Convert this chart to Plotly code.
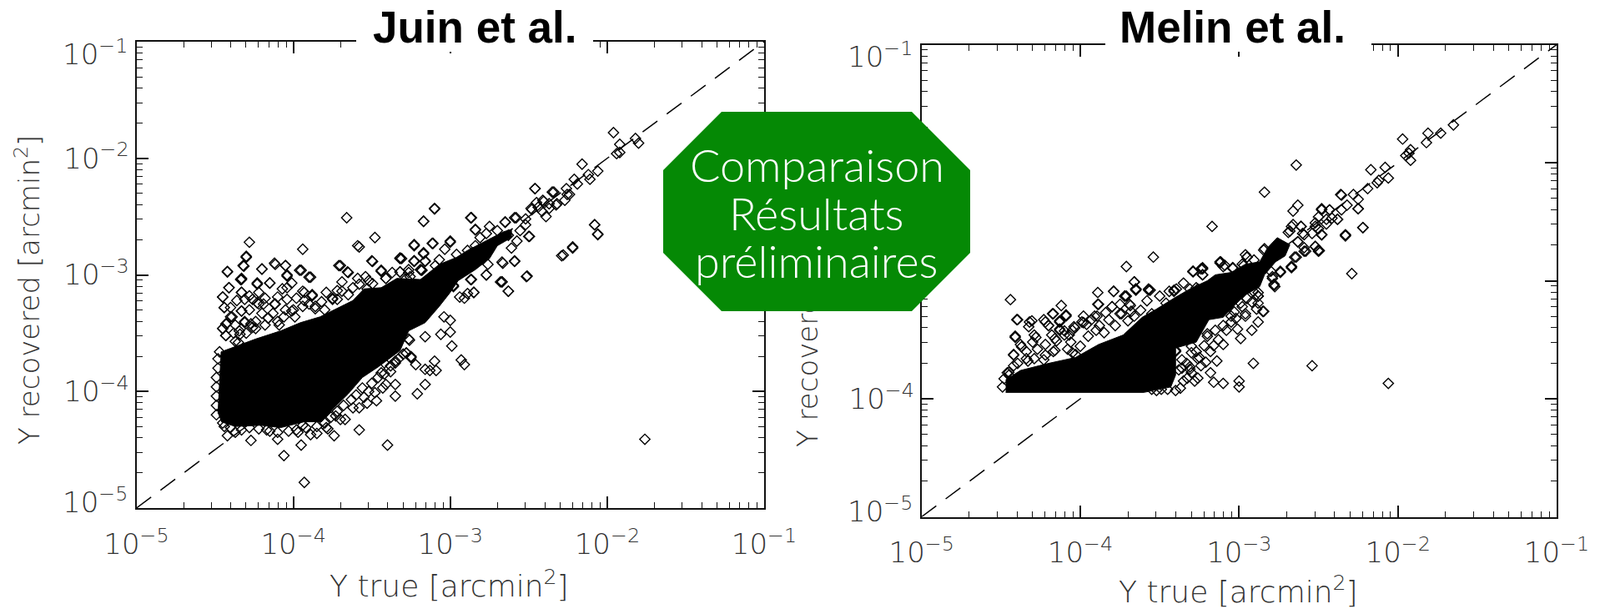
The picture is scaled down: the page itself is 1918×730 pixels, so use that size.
import numpy as np
import plotly.graph_objects as go

# All values are log10(Y). Individual diamonds are read where they can be
# told apart; the saturated black core cannot be resolved into points, so its outline is traced.
juin_lx = [-1.96,-1.92,-1.82,-1.80,-1.94,-1.92,-2.16,-2.06,-2.12,-2.11,-2.21,-2.19,-2.26,-2.24,-2.46,-2.34,-2.41,-2.37,-2.32,-2.44,-2.48,-2.52,-2.08,-2.06,-2.22,-2.28,-2.50,-2.59,-2.65,-2.87,-2.84,-3.10,-3.17,-3.66,-3.48,-3.59,-3.23,-3.11,-3.00,-3.17,-3.31,-3.23,-3.16,-3.50,-3.94,-4.28,-4.30,-4.32,-4.42,-4.33,-4.20,-4.12,-4.05,-3.95,-3.89,-4.04,-3.70,-3.65,-3.44,-3.18,-2.67,-2.59,-2.77,-2.51,-2.67,-2.87,
 -4.41,-4.33,-4.45,-4.23,-4.15,-4.33,-4.04,-3.94,-3.88,-3.75,-3.69,-4.23,-4.31,-4.44,-4.33,-4.39,-4.31,-4.43,-4.45,-4.43,-4.34,-4.37,-4.26,-4.16,-4.12,-4.06,-4.00,-3.86,-4.09,-4.24,-4.19,-3.93,-3.59,-3.53,-3.41,-3.36,-3.61,-3.28,-2.67,-2.63,-2.85,-2.91,-2.98,-3.00,-3.00,-2.99,-3.04,-3.06,-3.16,-3.26,-3.25,-3.22,-3.28,-2.93,-2.91,-3.10,-3.16,-3.13,-3.09,-3.16,-3.21,-3.35,-3.35,-3.41,-3.38,-3.35,-3.47,-3.53,-3.58,-3.67,-3.73,-3.58,-3.74,-3.79,-3.85,-3.89,-3.95,-3.97,-3.94,-3.40,-4.06,-3.93,-4.10,-4.27,-4.37,-4.42,-4.44,-4.17,-1.76,-3.48,-3.44,
 -4.42,-4.315,-4.30,-4.336,-4.20,-4.115,-4.05,-3.96,-3.90,-4.04,-4.23,-4.15,-4.41,-4.33,-4.45,-4.22,-4.26,-4.07,-4.01,-3.93,-3.88,-4.04,-4.115,-4.22,-4.44,-4.33,-4.40,-4.31,-4.425,-4.45,-4.345,-4.43,-4.35,-4.16,-4.24,-4.01,-3.94,-3.86,-3.79,-3.75,-3.71,-3.655,-3.69,-3.62,-3.72,-3.495,-3.44,-3.32,-3.23,-3.265,-3.32,-3.19,-3.58,-3.54,-3.495,-3.41,-3.265,-3.25,-3.28,-3.35,-3.42,
 -2.46,-2.35,-2.255,-2.325,-2.27,-2.39,-2.415,-2.485,-2.45,-2.405,-2.37,-2.495,-2.52,-2.58,-2.65,-2.555,-2.575,-2.61,-2.63,-2.70,-2.75,-2.77,-2.84,-2.81,-2.865,-2.84,-2.89,-2.665,-2.59,-2.515,-2.68,-2.63,-2.77,-2.76,-2.865,-2.85,-2.89,-2.94,-2.98,-3.00,-3.115,-3.23,-3.17,-3.10,-3.32,-3.23,-3.17,-3.16,-3.185,-3.32,-3.265,-3.256,-3.095,-3.035,-3.07,-2.96,-2.08,-2.06,-2.22,-2.29,
 -4.45,-4.40,-4.33,-4.28,-4.22,-4.15,-4.10,-4.03,-3.98,-3.92,-3.85,-3.80,-3.76,-3.72,-3.68,-3.63,-3.60,-3.56,-3.52,-3.50,-3.46,-3.42,-3.38,-3.33,-3.30,-3.43,-3.55,-3.62,-3.70,-3.78,-4.48,-4.48,-4.49,-4.49,-4.49,-4.49,-4.49,-4.47,
 -4.38,-4.30,-4.27,-4.20,-4.13,-4.18,-4.10,-4.05,-3.99,-3.90,-3.82,-3.80,-3.72,-3.65,-3.58,-3.52,-3.37,-4.40,-4.36,-4.28,-4.18,-4.10,-3.98,-4.37,-4.28]
juin_ly = [-1.78,-1.88,-1.83,-1.87,-1.96,-1.95,-2.05,-2.11,-2.14,-2.18,-2.18,-2.22,-2.26,-2.31,-2.26,-2.29,-2.36,-2.39,-2.39,-2.42,-2.44,-2.52,-2.57,-2.65,-2.76,-2.83,-2.67,-2.51,-2.55,-2.51,-2.61,-2.43,-2.54,-2.51,-2.68,-2.75,-2.74,-2.73,-2.71,-2.81,-2.86,-2.88,-2.88,-2.88,-2.78,-2.72,-2.84,-2.92,-2.97,-3.04,-2.95,-2.90,-2.92,-2.96,-3.02,-3.00,-2.92,-2.98,-2.96,-2.96,-2.89,-2.88,-3.00,-3.01,-3.06,-3.04,
 -3.11,-3.15,-3.19,-3.07,-3.07,-3.03,-3.11,-3.14,-3.18,-3.20,-3.14,-3.24,-3.21,-3.28,-3.31,-3.36,-3.40,-3.42,-3.46,-3.52,-3.51,-3.57,-3.45,-3.37,-3.25,-3.36,-3.30,-3.27,-3.43,-3.40,-3.25,-3.22,-3.03,-3.12,-3.03,-3.18,-3.31,-3.03,-3.06,-3.14,-3.15,-3.20,-3.09,-3.39,-3.49,-3.61,-3.36,-3.51,-3.53,-3.56,-3.70,-3.77,-3.67,-3.73,-3.77,-3.74,-3.81,-3.82,-3.82,-3.94,-4.02,-3.94,-4.04,-3.94,-3.83,-3.74,-4.08,-4.10,-4.14,-4.24,-4.21,-4.33,-4.38,-4.31,-4.36,-4.37,-4.46,-4.35,-4.29,-4.46,-4.55,-4.78,-4.41,-4.42,-4.35,-4.38,-4.30,-4.33,-4.41,-4.01,-3.84,
 -2.975,-2.925,-2.85,-3.04,-2.95,-2.91,-2.92,-2.96,-3.02,-3.01,-3.08,-3.07,-3.11,-3.15,-3.19,-3.15,-3.21,-3.12,-3.07,-3.15,-3.17,-3.21,-3.25,-3.25,-3.28,-3.31,-3.36,-3.41,-3.42,-3.46,-3.48,-3.52,-3.58,-3.37,-3.46,-3.31,-3.27,-3.29,-3.15,-3.21,-2.92,-2.975,-3.06,-3.11,-3.135,-2.885,-2.97,-2.855,-2.88,-2.98,-2.975,-2.955,-2.76,-3.015,-3.075,-3.03,-3.55,-3.71,-3.67,-3.755,-3.755,
 -2.26,-2.29,-2.31,-2.40,-2.36,-2.50,-2.455,-2.43,-2.38,-2.37,-2.43,-2.67,-2.57,-2.51,-2.545,-2.62,-2.71,-2.77,-2.66,-2.62,-2.585,-2.645,-2.615,-2.68,-2.51,-2.75,-2.79,-2.90,-2.885,-3.015,-3.06,-3.14,-3.00,-2.91,-3.04,-3.15,-3.16,-3.19,-3.10,-2.72,-2.73,-2.75,-2.54,-2.435,-2.86,-2.885,-2.82,-2.885,-2.96,-2.975,-2.955,-3.015,-2.92,-2.78,-2.87,-2.825,-2.57,-2.655,-2.77,-2.836,
 -4.27,-4.31,-4.33,-4.31,-4.32,-4.34,-4.35,-4.34,-4.33,-4.31,-4.30,-4.27,-4.22,-4.17,-4.12,-4.07,-4.03,-3.97,-4.00,-3.93,-3.88,-3.85,-3.78,-3.72,-3.68,-3.97,-4.05,-4.14,-4.24,-4.32,-3.72,-3.80,-3.88,-3.96,-4.04,-4.12,-4.20,-3.66,
 -3.50,-3.50,-3.42,-3.33,-3.33,-3.43,-3.40,-3.30,-3.36,-3.25,-3.23,-3.30,-3.21,-3.17,-3.08,-3.05,-2.98,-3.28,-3.22,-3.18,-3.20,-3.19,-3.20,-3.43,-3.30]
juin_core_lx = [-4.48,-4.47,-4.46,-4.40,-4.24,-4.08,-3.955,-3.83,-3.725,-3.62,-3.55,-3.44,-3.34,-3.19,-3.07,-2.96,-2.89,-2.77,-2.66,-2.61,-2.61,-2.70,-2.75,-2.84,-2.95,-3.00,-3.07,-3.16,-3.265,-3.32,-3.46,-3.56,-3.65,-3.74,-3.82,-3.93,-4.08,-4.21,-4.37,-4.46]
juin_core_ly = [-4.19,-3.90,-3.66,-3.63,-3.55,-3.48,-3.41,-3.36,-3.29,-3.22,-3.12,-3.11,-3.03,-3.04,-2.91,-2.85,-2.79,-2.705,-2.63,-2.61,-2.68,-2.75,-2.86,-2.955,-3.05,-3.15,-3.27,-3.41,-3.48,-3.65,-3.79,-3.88,-4.02,-4.14,-4.26,-4.26,-4.31,-4.29,-4.30,-4.26]

melin_lx = [-1.65,-1.73,-1.81,-1.82,-1.97,-1.92,-1.93,-1.92,-1.95,-2.08,-2.17,-2.06,-2.12,-2.13,-2.19,-2.25,-2.36,-2.25,-2.32,-2.22,-2.33,-2.29,-2.64,-2.84,-2.63,-2.66,-3.17,-3.54,-3.71,-2.48,-2.43,-2.45,-2.38,-2.52,-2.61,-2.67,-2.48,-2.50,-2.69,-2.60,-2.52,-2.50,-2.59,-2.63,-2.84,-2.67,-2.65,-2.74,-2.78,-2.79,-2.95,-3.12,-3.29,-3.23,-3.23,-3.66,-3.65,-3.79,-3.72,-3.57,-3.41,-3.27,-2.88,-2.91,-3.10,-3.04,-2.98,
 -4.44,-4.12,-4.40,-4.32,-4.22,-4.20,-4.17,-4.09,-4.13,-3.89,-3.79,-3.66,-3.65,-3.72,-3.69,-3.57,-3.80,-3.89,-3.91,-3.74,-3.99,-4.04,-4.13,-4.07,-4.05,-4.16,-4.41,-4.28,-4.37,-4.42,-4.34,-4.46,-4.22,-4.16,-3.41,-3.29,-3.24,-3.12,-2.96,-3.04,-2.67,-2.78,-2.50,-2.85,-2.88,-2.92,-2.99,-3.10,-3.01,-3.05,-2.96,-3.14,-2.91,-2.54,-2.06,-3.00,-3.00,-3.10,-3.16,-3.18,-3.21,-3.26,-3.28,-3.31,-3.36,-3.37,-3.49,-3.55,-3.30,-3.40,-3.20,-2.48,
 -3.71,-3.685,-3.65,-3.56,-3.50,-3.395,-3.46,-3.31,-3.26,-3.885,-3.80,-3.75,-3.62,-3.66,-3.895,-3.84,-3.93,-3.88,-3.82,-3.96,-4.035,-4.10,-4.13,-4.09,-4.13,-4.175,-4.23,-4.20,-4.305,-4.395,-4.325,-4.29,-4.41,-4.377,-4.34,-4.42,-4.29,-4.23,-4.22,-4.15,-4.10,-4.06,-4.03,-4.00,-4.395,-4.45,-3.98,-3.78,-3.55,-3.51,-3.40,-3.36,-3.38,-3.30,-3.25,-3.20,-3.31,-3.26,-3.326,
 -2.845,-2.95,-3.116,-3.23,-3.29,-3.23,-3.09,-3.04,-2.97,-2.906,-2.67,-2.74,-2.775,-2.79,-2.80,-2.52,-2.495,-2.58,-2.63,-2.59,-2.64,-2.68,-2.61,-2.66,-2.59,-2.54,-2.48,-2.52,-2.50,-2.48,-2.43,-2.415,-2.38,-2.45,-2.355,-2.33,-2.22,-2.25,-2.28,-2.355,-2.88,-2.845,-2.89,-2.88,-2.96,-3.03,-2.99,-2.95,
 -3.35,-3.40,-3.30,-3.24,-3.18,-3.22,-3.13,-3.15,-3.08,-3.02,-2.98,-2.92,-2.88,-3.45,-3.52,-4.49,-4.48,-4.45,
 -4.42,-4.33,-4.27,-4.17,-4.08,-3.95,-3.90,-3.85,-3.70,-3.58,-3.68,-3.44,-3.35,-4.30,-4.18,-4.05,-3.98,-3.75,-3.12,-3.05,-3.16,-3.27,-3.33,-3.10]
melin_ly = [-1.68,-1.75,-1.75,-1.83,-1.80,-1.89,-1.92,-1.98,-1.94,-2.04,-2.06,-2.13,-2.15,-2.17,-2.22,-2.31,-2.27,-2.39,-2.36,-2.55,-2.62,-2.94,-2.02,-2.25,-2.36,-2.41,-2.54,-2.80,-2.88,-2.40,-2.40,-2.48,-2.48,-2.51,-2.54,-2.54,-2.61,-2.56,-2.59,-2.60,-2.71,-2.75,-2.75,-2.67,-2.73,-2.89,-2.80,-2.92,-3.04,-2.98,-2.80,-2.85,-2.92,-2.90,-2.95,-3.01,-3.07,-3.09,-3.13,-3.08,-3.08,-3.06,-3.13,-3.09,-2.88,-2.89,-2.86,
 -3.16,-3.21,-3.33,-3.35,-3.35,-3.38,-3.28,-3.29,-3.35,-3.10,-3.09,-3.01,-3.08,-3.13,-3.20,-3.07,-3.22,-3.20,-3.30,-3.28,-3.35,-3.39,-3.42,-3.46,-3.61,-3.49,-3.48,-3.48,-3.56,-3.63,-3.66,-3.78,-3.63,-3.59,-3.09,-2.92,-2.90,-2.84,-2.78,-2.89,-2.88,-3.03,-2.74,-3.26,-3.35,-3.42,-3.49,-3.54,-3.41,-3.35,-3.30,-3.68,-3.70,-3.72,-3.87,-3.85,-3.90,-3.87,-3.86,-3.78,-3.69,-3.66,-3.85,-3.75,-3.74,-3.91,-3.92,-3.92,-3.61,-3.60,-3.47,-2.61,
 -3.13,-3.21,-3.07,-3.08,-3.13,-3.07,-3.19,-3.07,-3.07,-3.20,-3.22,-3.28,-3.25,-3.30,-3.30,-3.27,-3.33,-3.38,-3.33,-3.37,-3.40,-3.425,-3.41,-3.30,-3.34,-3.28,-3.33,-3.38,-3.34,-3.33,-3.39,-3.46,-3.47,-3.54,-3.60,-3.625,-3.66,-3.67,-3.54,-3.51,-3.46,-3.52,-3.625,-3.555,-3.70,-3.775,-3.355,-3.38,-3.28,-3.33,-3.59,-3.67,-3.755,-3.555,-3.65,-3.45,-3.73,-3.825,-3.825,
 -2.74,-2.80,-2.84,-2.89,-2.925,-2.95,-2.87,-2.895,-2.87,-2.825,-2.88,-2.93,-3.05,-2.965,-2.92,-2.71,-2.745,-2.75,-2.67,-2.72,-2.80,-2.58,-2.54,-2.525,-2.61,-2.60,-2.61,-2.54,-2.46,-2.39,-2.40,-2.47,-2.48,-2.52,-2.40,-2.61,-2.55,-2.39,-2.27,-2.275,-3.13,-3.26,-3.24,-3.19,-3.28,-3.265,-3.19,-3.15,
 -3.85,-3.93,-3.78,-3.72,-3.60,-3.55,-3.50,-3.42,-3.42,-3.32,-3.22,-3.18,-3.10,-3.92,-3.93,-3.90,-3.83,-3.80,
 -3.72,-3.68,-3.58,-3.60,-3.58,-3.47,-3.42,-3.44,-3.34,-3.17,-3.26,-3.09,-3.02,-3.52,-3.46,-3.42,-3.30,-3.20,-3.25,-3.30,-3.55,-3.60,-3.70,-3.38]
melin_core_lx = [-4.47,-3.60,-3.43,-3.40,-3.40,-3.27,-3.19,-3.10,-3.03,-2.96,-2.87,-2.84,-2.77,-2.71,-2.68,-2.76,-2.82,-2.87,-2.96,-3.05,-3.15,-3.20,-3.31,-3.40,-3.52,-3.61,-3.73,-3.885,-4.03,-4.20,-4.377,-4.47]
melin_core_ly = [-3.946,-3.946,-3.90,-3.80,-3.57,-3.52,-3.33,-3.31,-3.21,-3.12,-3.05,-2.95,-2.84,-2.79,-2.695,-2.635,-2.72,-2.84,-2.86,-2.93,-2.95,-3.00,-3.07,-3.14,-3.24,-3.31,-3.46,-3.54,-3.65,-3.70,-3.76,-3.84]

diag_x = [1e-5, 1e-1]
diag_y = [1e-5, 1e-1]
x_title = "Y true [arcmin<sup>2</sup>]"
y_title = "Y recovered [arcmin<sup>2</sup>]"
badge_lines = ["Comparaison", "Résultats", "préliminaires"]
panel_titles = ["Juin et al.", "Melin et al."]
major_vals = [1e-5, 1e-4, 1e-3, 1e-2, 1e-1]
major_text = ["10<sup>\u22125</sup>", "10<sup>\u22124</sup>", "10<sup>\u22123</sup>", "10<sup>\u22122</sup>", "10<sup>\u22121</sup>"]
y_axis_text = ["", major_text[1], major_text[2], major_text[3], ""]
minor_vals = [m * 10.0 ** e for e in [-5, -4, -3, -2] for m in [2, 3, 4, 5, 6, 7, 8, 9]]

W, H = 1918, 730
def pxx(v): return v / W
def pxy(v): return 1 - v / H

fig = go.Figure()
INK = "#111111"
def panel(lx, ly, clx, cly, xa, ya):
    fig.add_trace(go.Scatter(x=10 ** np.array(clx), y=10 ** np.array(cly), mode="lines", fill="toself",
                             fillcolor="black", line=dict(color="black", width=1), xaxis=xa, yaxis=ya,
                             showlegend=False, hoverinfo="skip"))
    fig.add_trace(go.Scatter(x=diag_x, y=diag_y, mode="lines", line=dict(color="black", width=1.5, dash="22px,14px"),
                             xaxis=xa, yaxis=ya, showlegend=False))
    fig.add_trace(go.Scatter(x=10 ** np.array(lx), y=10 ** np.array(ly), mode="markers",
                             marker=dict(symbol="diamond-open", size=9.5, color="black", line=dict(width=1.4)),
                             xaxis=xa, yaxis=ya, showlegend=False))
panel(juin_lx, juin_ly, juin_core_lx, juin_core_ly, "x", "y")
panel(melin_lx, melin_ly, melin_core_lx, melin_core_ly, "x2", "y2")

FONT = dict(family="DejaVu Sans", size=34, color="#333333", weight=200)
XTITLEF = dict(family="DejaVu Sans", size=36, color="#333333", weight=200)
YTITLEF = dict(family="DejaVu Sans", size=34, color="#333333", weight=200)
def axis(domain, standoff, labels):
    return dict(type="log", range=[-5, -1], domain=domain, tickmode="array", tickvals=major_vals, ticktext=labels,
                showgrid=False, zeroline=False, showline=True, linecolor=INK, linewidth=2, mirror="ticks", ticks="inside",
                ticklen=14, tickwidth=1.6, tickcolor=INK, tickfont=FONT, ticklabelstandoff=standoff, automargin=False,
                minor=dict(ticks="inside", ticklen=7, tickwidth=1.4, tickcolor=INK, tickvals=minor_vals, showgrid=False))
xa1 = axis([pxx(163.5), pxx(916)], 12, major_text)
ya1 = axis([pxy(609), pxy(50)], 0, y_axis_text)
xa2 = axis([pxx(1104.7), pxx(1866)], 12, major_text)
ya2 = axis([pxy(619.5), pxy(53.5)], 0, y_axis_text)
xa1["anchor"], ya1["anchor"], xa2["anchor"], ya2["anchor"] = "y", "x", "y2", "x2"

octagon = [(795,204),(865,134),(1093,134),(1163,204),(1163,303),(1093,373),(865,373),(795,303)]
path = "M" + " L".join(f"{pxx(a):.5f} {pxy(b):.5f}" for a, b in octagon) + " Z"
shapes = [
    dict(type="rect", xref="paper", yref="paper", x0=pxx(427), x1=pxx(711), y0=pxy(62), y1=1, fillcolor="white", line_width=0, layer="above"),
    dict(type="rect", xref="paper", yref="paper", x0=pxx(1325), x1=pxx(1644), y0=pxy(62), y1=1, fillcolor="white", line_width=0, layer="above"),
    dict(type="path", xref="paper", yref="paper", path=path, fillcolor="#058905", line_width=0, layer="above"),
]
annotations = []
def note(text, px, py, font, angle=0, anchor="center"):
    annotations.append(dict(text=text, x=pxx(px), y=pxy(py), xref="paper", yref="paper", showarrow=False,
                            xanchor=anchor, yanchor="middle", font=font, textangle=angle))
note(y_title, 966, 351, YTITLEF, -90)   # index 0: moved under the badge below
note(y_title, 33, 348, YTITLEF, -90)
note(x_title, 538, 700, XTITLEF)
note(x_title, 1484, 707, XTITLEF)
# The end labels of the Y axes sit inset from their ticks in the reference
for text, rx, py in [(major_text[4], 155, 63), (major_text[0], 155, 600), (major_text[4], 1096, 66), (major_text[0], 1096, 611)]:
    note(text, rx, py, FONT, anchor="right")
for text, cx in zip(panel_titles, [569, 1477]):
    note(f"<b>{text}</b>", cx, 32, dict(family="Liberation Sans", size=53, color="black"))
for text, cy in zip(badge_lines, [197, 255, 312]):
    note(text, 979, cy, dict(family="Lato", size=54, color="white", weight=300))

fig.update_layout(width=W, height=H, margin=dict(l=0, r=0, t=0, b=0), paper_bgcolor="white", plot_bgcolor="white",
                  xaxis=xa1, yaxis=ya1, xaxis2=xa2, yaxis2=ya2, shapes=shapes, annotations=annotations, showlegend=False)

post = """
document.body.style.margin='0';document.body.style.overflow='hidden';
var t=document.querySelector('.annotation[data-index="0"]');var s=document.querySelector('.layer-above');
if(t&&s){s.parentNode.insertBefore(t,s);}
"""
fig.write_html("out.html", post_script=post, config=dict(displayModeBar=False))
